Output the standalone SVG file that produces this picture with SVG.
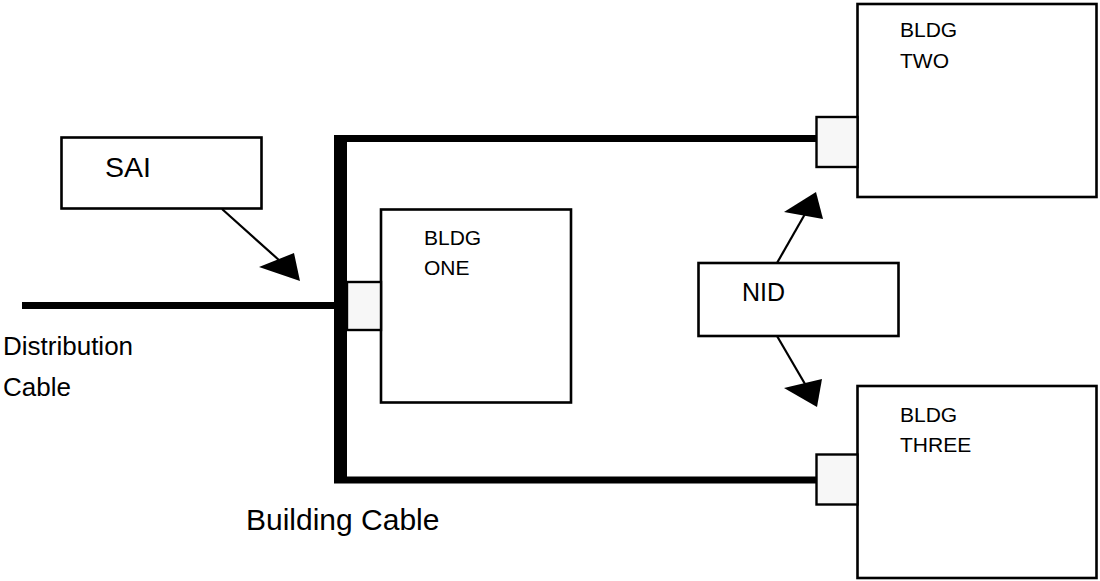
<svg xmlns="http://www.w3.org/2000/svg" width="1100" height="581" viewBox="0 0 1100 581">
<style>
.box{fill:#fff;stroke:#000;stroke-width:2.6}
.jack{fill:#f7f7f7;stroke:#000;stroke-width:2.4}
.cable{fill:#000;stroke:none}
.ptr{stroke:#000;stroke-width:2.2;fill:none}
.head{fill:#000;stroke:none}
text{font-family:"Liberation Sans",Arial,sans-serif;fill:#000}
.big{font-size:27px}
.bl{font-size:21px}
</style>
<rect width="1100" height="581" fill="#fff"/>
<g id="connectors">
  <rect class="cable" x="22" y="302" width="313" height="7"/>
  <rect class="cable" x="334" y="135" width="13" height="348"/>
  <rect class="cable" x="334" y="135" width="483" height="7"/>
  <rect class="cable" x="334" y="476.5" width="483" height="7"/>
  <line class="ptr" x1="222" y1="209" x2="280" y2="261"/>
  <polygon class="head" points="259,267 294,253 300,281"/>
  <line class="ptr" x1="777" y1="263" x2="805" y2="214"/>
  <polygon class="head" points="784,212 816,192 823,219"/>
  <line class="ptr" x1="777" y1="336" x2="805" y2="384"/>
  <polygon class="head" points="784,388 822,379 817,407"/>
</g>
<g id="sai">
  <rect class="box" x="61.5" y="137.5" width="200" height="71"/>
  <text class="big" x="105" y="177" textLength="46" lengthAdjust="spacingAndGlyphs">SAI</text>
</g>
<g id="nid">
  <rect class="box" x="698.5" y="263" width="200" height="73"/>
  <text class="big" x="742" y="301" style="font-size:25px">NID</text>
</g>
<g id="bldg-one">
  <rect class="box" x="381" y="209.5" width="190" height="193"/>
  <rect class="jack" x="347" y="282" width="34" height="48"/>
  <text class="bl" x="424" y="245">BLDG</text>
  <text class="bl" x="424" y="275">ONE</text>
</g>
<g id="bldg-two">
  <rect class="box" x="857.5" y="4" width="239" height="193"/>
  <rect class="jack" x="816.5" y="117" width="41" height="50"/>
  <text class="bl" x="900" y="37">BLDG</text>
  <text class="bl" x="900" y="68">TWO</text>
</g>
<g id="bldg-three">
  <rect class="box" x="857.5" y="386" width="239" height="192"/>
  <rect class="jack" x="816.5" y="454.5" width="41" height="50"/>
  <text class="bl" x="900" y="422">BLDG</text>
  <text class="bl" x="900" y="452">THREE</text>
</g>
<g id="labels">
  <text x="3" y="355" style="font-size:26px">Distribution</text>
  <text x="3" y="396" style="font-size:26px">Cable</text>
  <text x="246" y="530" style="font-size:30px">Building Cable</text>
</g>
</svg>
